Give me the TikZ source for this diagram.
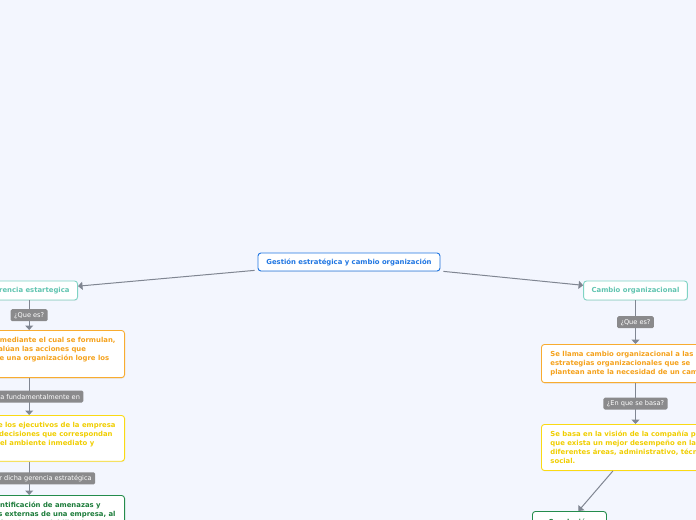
\documentclass[tikz,border=0pt]{standalone}
\usepackage{fontspec}
\setmainfont{DejaVu Sans}
\usetikzlibrary{arrows.meta,positioning,calc,shadows}

\definecolor{canvas}{RGB}{243,246,254}
\definecolor{rootblue}{RGB}{32,118,226}
\definecolor{tealline}{RGB}{128,212,196}
\definecolor{tealtext}{RGB}{96,196,176}
\definecolor{orline}{RGB}{248,172,48}
\definecolor{ortext}{RGB}{245,162,28}
\definecolor{yeline}{RGB}{250,218,20}
\definecolor{yetext}{RGB}{240,206,0}
\definecolor{grline}{RGB}{36,140,76}
\definecolor{grtext}{RGB}{28,124,58}
\definecolor{linkgray}{RGB}{128,134,146}
\definecolor{lblgray}{RGB}{138,138,140}

\begin{document}
\begin{tikzpicture}[
  x=1bp, y=-1bp,
  font=\bfseries\fontsize{6.9}{9}\selectfont,
  soft/.style={drop shadow={shadow xshift=0.4bp, shadow yshift=-0.9bp, opacity=0.12}},
  topic/.style={soft, draw=rootblue, fill=white, rounded corners=3bp, line width=0.9bp, text=rootblue, minimum width=182bp, minimum height=18bp},
  branch/.style={soft, draw=tealline, fill=white, rounded corners=3bp, line width=0.9bp, text=tealtext, minimum height=19bp, inner xsep=8bp},
  card/.style={soft, fill=white, rounded corners=3bp, line width=0.9bp, align=left, inner xsep=9bp, inner ysep=6.8bp},
  defn/.style={card, draw=orline, text=ortext},
  basis/.style={card, draw=yeline, text=yetext},
  concl/.style={card, draw=grline, text=grtext},
  lbl/.style={fill=lblgray, text=white, rounded corners=1.5bp, font=\fontsize{6.6}{7.5}\selectfont, inner xsep=3.5bp, inner ysep=1.5bp, minimum height=12bp},
  link/.style={draw=linkgray, line width=1bp, -{Triangle[length=4.5bp,width=8bp]}},
]
\useasboundingbox (0,0) rectangle (696,520);
\clip (0,0) rectangle (696,520);
\fill[canvas] (0,0) rectangle (696,520);

\node[topic] (root) at (349,262) {Gestión estratégica y cambio organización};
\node[branch, anchor=east] (ger) at (78,290.5) {Gerencia estartegica};
\node[branch] (cam) at (635.5,290.5) {Cambio organizacional};

% gerencia
\node[defn, anchor=north east] (gerdef) at (125,330) {Es el proceso mediante el cual se formulan,\\ejecutan y evalúan las acciones que\\permitirán que una organización logre los\\objetivos.};
\node[basis, anchor=north east] (gerbas) at (125,415) {La capacidad de los ejecutivos de la empresa\\para tomar las decisiones que correspondan\\a los cambios del ambiente inmediato y\\futuro.};
\node[concl, anchor=north east] (gerfin) at (125,495) {Permite la identificación de amenazas y\\oportunidades externas de una empresa, al\\igual que sus fortalezas y debilidades.};

% cambio
\node[defn, anchor=north west] (camdef) at (541,344) {Se llama cambio organizacional a las\\estrategias organizacionales que se\\plantean ante la necesidad de un cambio.};
\node[basis, anchor=north west] (cambas) at (541,424) {Se basa en la visión de la compañía para\\que exista un mejor desempeño en las\\diferentes áreas, administrativo, técnico y\\social.};
\node[concl, anchor=north west, minimum width=74bp, minimum height=20bp] (camfin) at (532,511) {Conclusión};

\draw[link, shorten <=3bp] (root) -- (ger);
\draw[link, shorten <=3bp] (root) -- (cam);

\draw[link] (ger.south) -- node[lbl] {¿Que es?} (ger.south |- gerdef.north);
\draw[link] (ger.south |- gerdef.south) -- node[lbl] {Se basa fundamentalmente en} (ger.south |- gerbas.north);
\draw[link] (ger.south |- gerbas.south) -- node[lbl] {Al ejecutar dicha gerencia estratégica} (ger.south |- gerfin.north);

\draw[link] (cam.south) -- node[lbl] {¿Que es?} (cam.south |- camdef.north);
\draw[link] (cam.south |- camdef.south) -- node[lbl] {¿En que se basa?} (cam.south |- cambas.north);
\draw[link] (cambas) -- (camfin);
\end{tikzpicture}
\end{document}
